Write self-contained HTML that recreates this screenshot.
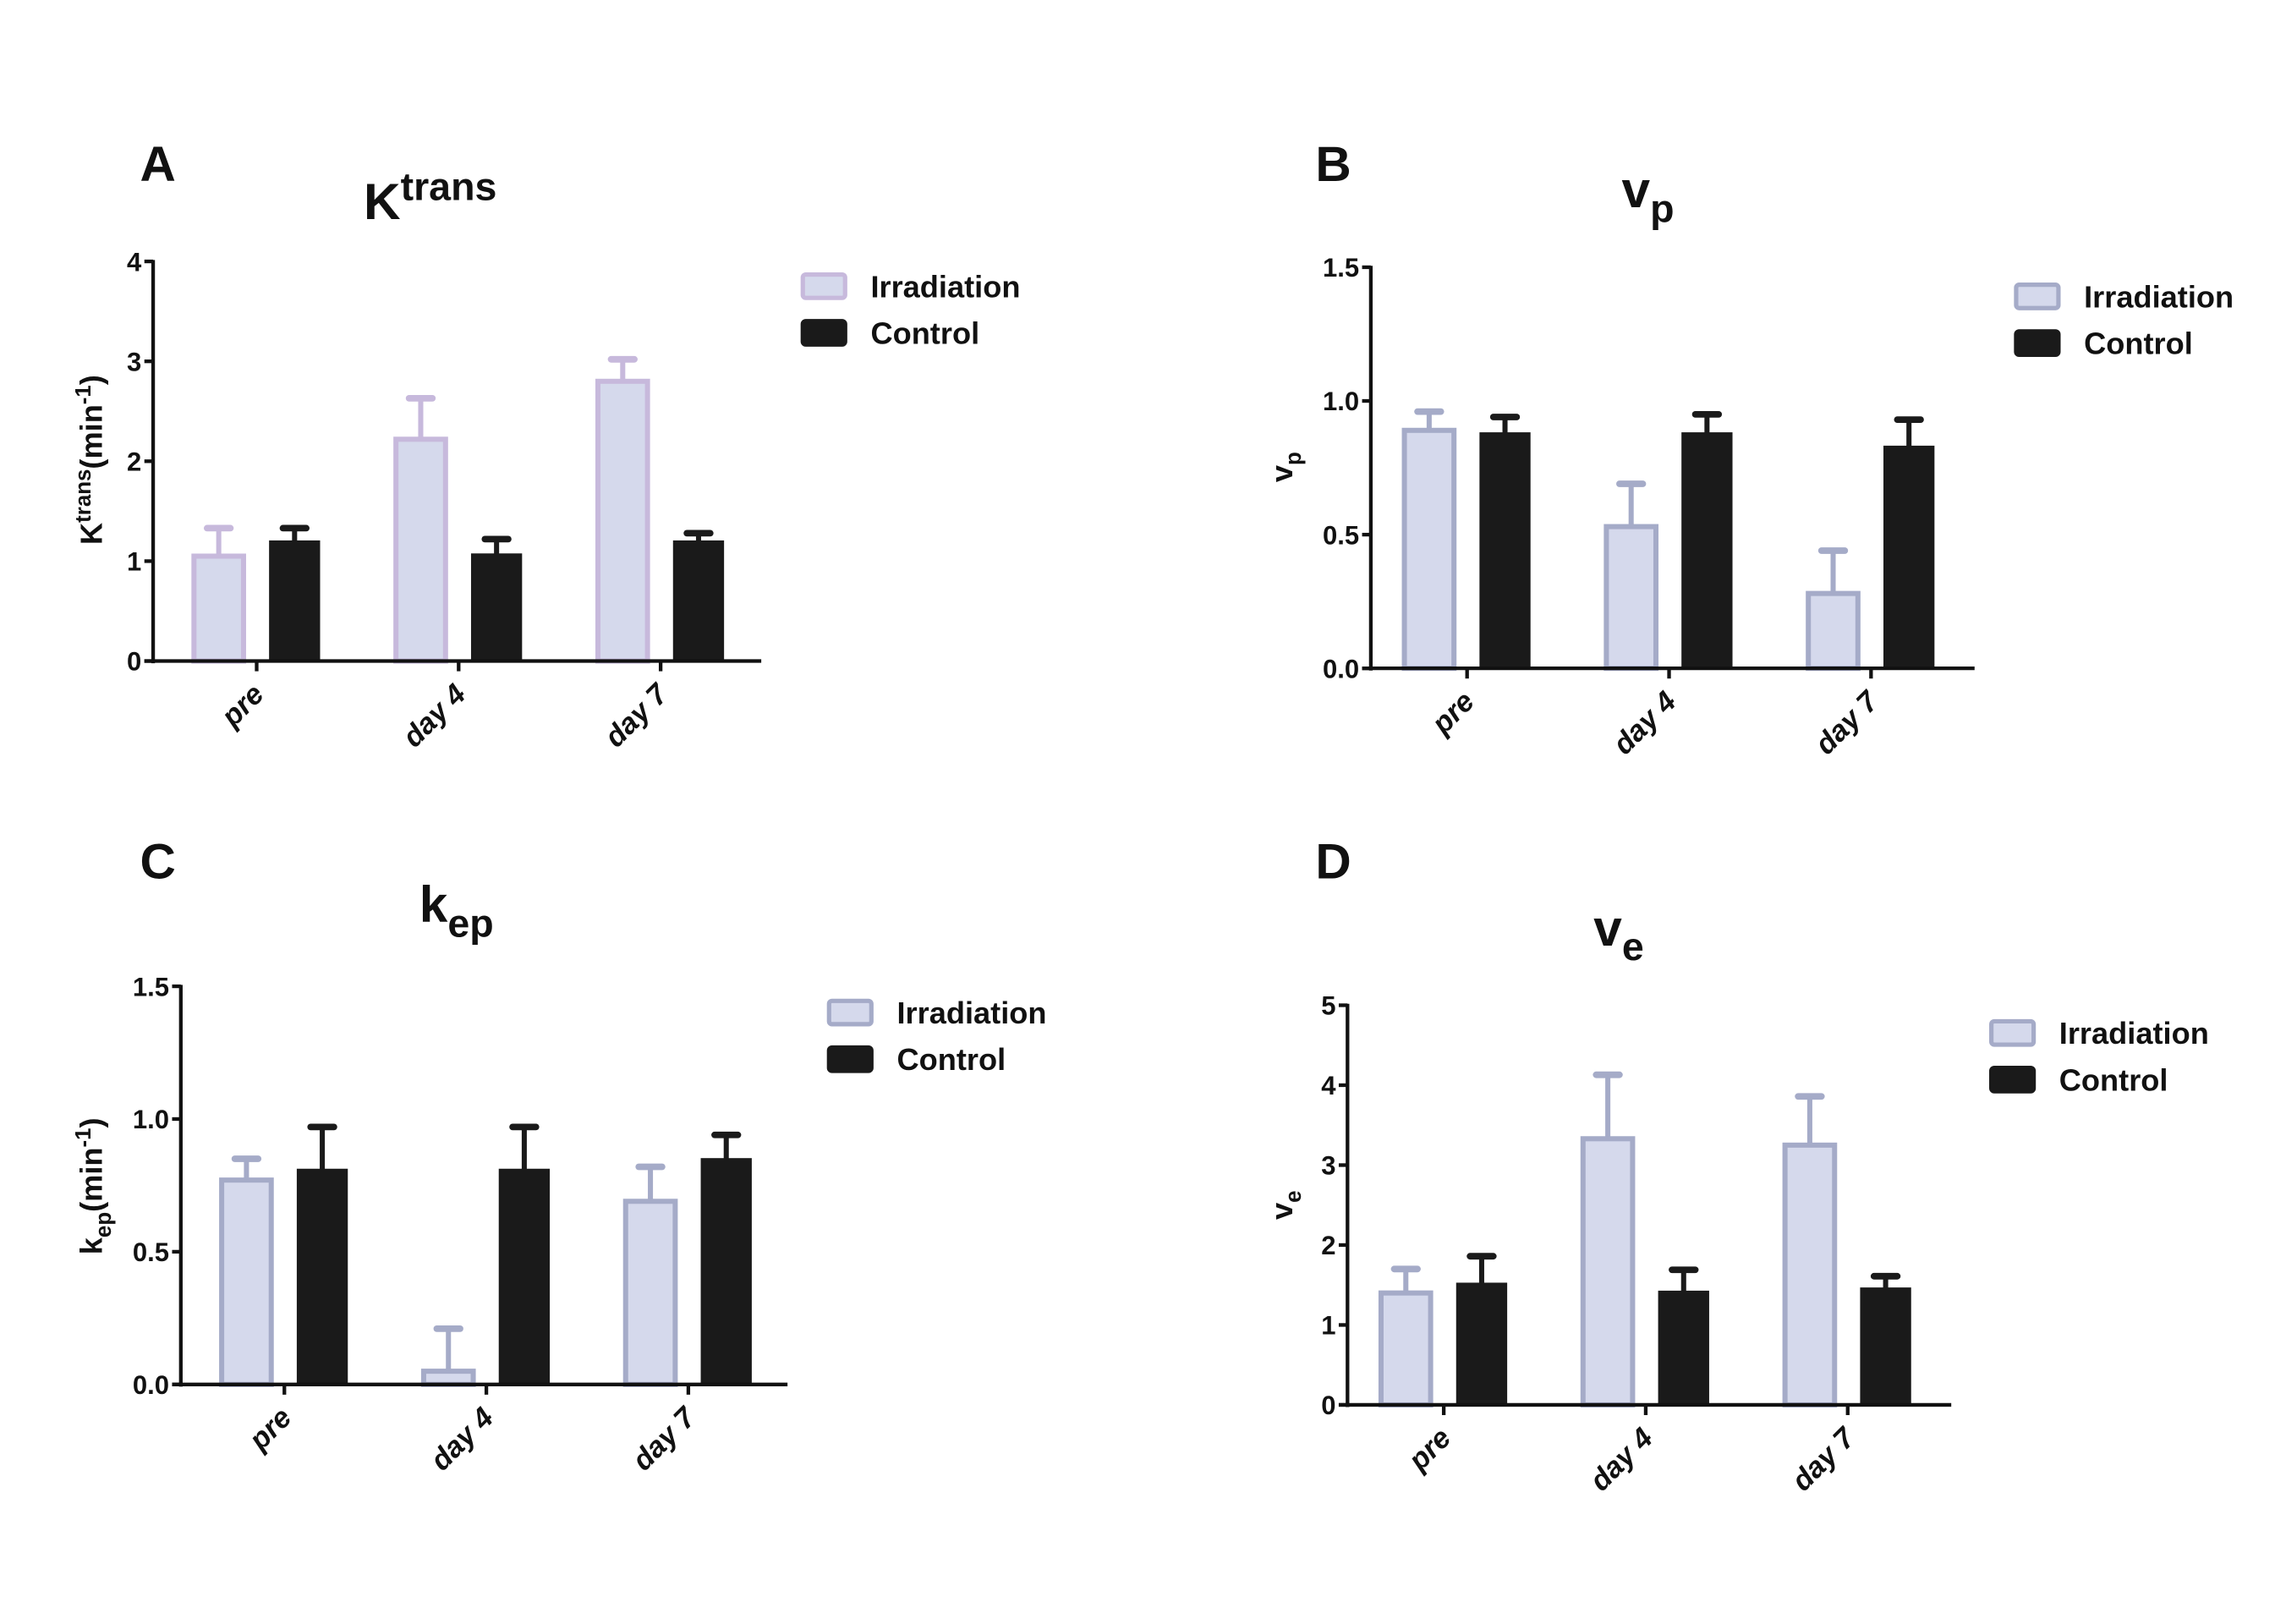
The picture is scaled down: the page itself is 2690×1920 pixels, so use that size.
<!DOCTYPE html>
<html><head><meta charset="utf-8"><style>
html,body{margin:0;padding:0;background:#fff;}
svg{display:block;}
text{font-family:"Liberation Sans",sans-serif;font-weight:bold;fill:#111;}
</style></head><body>
<svg id="fig" width="2690" height="1920" viewBox="0 0 1560 1113" xmlns="http://www.w3.org/2000/svg">
<rect width="1560" height="1113" fill="#fff"/>
</svg>
<script>
const categories = ["pre", "day 4", "day 7"];
const ktransIrr = [1.05, 2.22, 2.8];
const ktransIrrErr = [1.33, 2.63, 3.02];
const ktransCtl = [1.2, 1.07, 1.2];
const ktransCtlErr = [1.33, 1.22, 1.28];
const ktransTicks = ["0", "1", "2", "3", "4"];
const vpIrr = [0.89, 0.53, 0.28];
const vpIrrErr = [0.96, 0.69, 0.44];
const vpCtl = [0.88, 0.88, 0.83];
const vpCtlErr = [0.94, 0.95, 0.93];
const vpTicks = ["0.0", "0.5", "1.0", "1.5"];
const kepIrr = [0.77, 0.05, 0.69];
const kepIrrErr = [0.85, 0.21, 0.82];
const kepCtl = [0.81, 0.81, 0.85];
const kepCtlErr = [0.97, 0.97, 0.94];
const kepTicks = ["0.0", "0.5", "1.0", "1.5"];
const veIrr = [1.4, 3.33, 3.25];
const veIrrErr = [1.7, 4.13, 3.86];
const veCtl = [1.52, 1.42, 1.46];
const veCtlErr = [1.86, 1.69, 1.61];
const veTicks = ["0", "1", "2", "3", "4", "5"];

const NS = "http://www.w3.org/2000/svg";
const svg = document.getElementById("fig");
function mk(tag, attrs, parent, txt) {
  const e = document.createElementNS(NS, tag);
  for (const k in attrs) e.setAttribute(k, attrs[k]);
  if (txt !== undefined) e.textContent = txt;
  (parent || svg).appendChild(e);
  return e;
}

function panel(cfg) {
  const g = mk("g", {});
  
  
  const yScale = v => cfg.y0 - (v / cfg.max) * (cfg.y0 - cfg.yTop);
  const xScale = i => cfg.c0 + i * cfg.step;
  const L = mk("text", {x: cfg.letterX, y: cfg.letterY, "font-size": 34}, g, cfg.letter);
  
  
  const T = mk("text", {x: cfg.titleX, y: cfg.titleY, "font-size": 35, "text-anchor": "middle"}, g);
  
  
  mk("tspan", {}, T, cfg.titleMain);
  mk("tspan", {dy: cfg.titleSup ? -13 : 10, "font-size": 27}, T, cfg.titleSup || cfg.titleSub);
  const Y = mk("text", {transform: `translate(${cfg.ylabX},${cfg.ylabY}) rotate(-90)`, "font-size": 21, "text-anchor": "middle"}, g);
  
  
  cfg.ylab(Y);
  const bw = 34, off = 26;
  const sets = [[cfg.irr, cfg.irrErr, "irr"], [cfg.ctl, cfg.ctlErr, "ctl"]];
  sets.forEach(([vals, errs, kind], s) => {
    vals.forEach((v, i) => {
      const cx = xScale(i) + (s === 0 ? -off : off);
      const col = kind === "irr" ? cfg.irrStroke : "#1a1a1a";
      const eb = mk("g", {}, g);
      
      
      mk("line", {x1: cx, x2: cx, y1: yScale(v), y2: yScale(errs[i]), stroke: col, "stroke-width": 3.5}, eb);
      mk("line", {x1: cx - 8, x2: cx + 8, y1: yScale(errs[i]), y2: yScale(errs[i]), stroke: col, "stroke-width": 4.5, "stroke-linecap": "round"}, eb);
      const top = yScale(v);
      const r = mk("rect", {x: cx - bw / 2, y: top, width: bw, height: cfg.y0 - top,
        fill: kind === "irr" ? "#d5d9ec" : "#1a1a1a",
        stroke: col, "stroke-width": kind === "irr" ? 3.5 : 1}, g);
      
      
    });
  });
  const ax = mk("g", {}, g);
  
  
  mk("line", {x1: cfg.ax, x2: cfg.ax, y1: cfg.yTop - 1, y2: cfg.y0 + 1.5, stroke: "#111", "stroke-width": 2.5}, ax);
  mk("line", {x1: cfg.ax - 6, x2: cfg.xEnd, y1: cfg.y0, y2: cfg.y0, stroke: "#111", "stroke-width": 2.5}, ax);
  cfg.ticks.forEach((t, k) => {
    const yy = yScale(k * cfg.max / (cfg.ticks.length - 1));
    mk("line", {x1: cfg.ax - 6, x2: cfg.ax, y1: yy, y2: yy, stroke: "#111", "stroke-width": 2.5}, ax);
    const tl = mk("text", {x: cfg.ax - 8, y: yy + 6.5, "font-size": 18, "text-anchor": "end"}, ax, t);
    
    
  });
  categories.forEach((c, i) => {
    const xx = xScale(i);
    mk("line", {x1: xx, x2: xx, y1: cfg.y0, y2: cfg.y0 + 7, stroke: "#111", "stroke-width": 2.5}, ax);
    const cl = mk("text", {transform: `translate(${xx + 6},${cfg.y0 + 24}) rotate(-45)`, "font-size": 20, "text-anchor": "end", "font-style": "italic"}, ax, c);
    
    
  });
  const lg = mk("g", {}, g);
  
  
  [["Irradiation", "#d5d9ec", cfg.irrStroke], ["Control", "#1a1a1a", "#1a1a1a"]].forEach((e, k) => {
    const ly = cfg.legY + k * 32;
    const le = mk("g", {}, lg);
    
    
    mk("rect", {x: cfg.legX + 1.5, y: ly - 8, width: 29, height: 16, rx: 2, fill: e[1], stroke: e[2], "stroke-width": 3}, le);
    mk("text", {x: cfg.legX + 48, y: ly + 7.5, "font-size": 21}, le, e[0]);
  });
}

panel({id: "ktrans", letter: "A", letterX: 96, letterY: 124, titleX: 295, titleY: 150, titleMain: "K", titleSup: "trans",
  ylab: Y => { mk("tspan", {}, Y, "K"); mk("tspan", {dy: -8, "font-size": 15}, Y, "trans"); mk("tspan", {dy: 8}, Y, "(min"); mk("tspan", {dy: -8, "font-size": 15}, Y, "-1"); mk("tspan", {dy: 8}, Y, ")"); },
  ylabX: 70, ylabY: 315, ax: 105, yTop: 179, y0: 453, xEnd: 522, max: 4, ticks: ktransTicks,
  c0: 176, step: 138.5, irr: ktransIrr, irrErr: ktransIrrErr, ctl: ktransCtl, ctlErr: ktransCtlErr,
  irrStroke: "#c7b9dc", legX: 549, legY: 196});
panel({id: "vp", letter: "B", letterX: 902, letterY: 124, titleX: 1130, titleY: 142, titleMain: "v", titleSub: "p",
  ylab: Y => { mk("tspan", {}, Y, "v"); mk("tspan", {dy: 6, "font-size": 15}, Y, "p"); },
  ylabX: 886, ylabY: 320, ax: 940, yTop: 183, y0: 458, xEnd: 1354, max: 1.5, ticks: vpTicks,
  c0: 1006, step: 138.5, irr: vpIrr, irrErr: vpIrrErr, ctl: vpCtl, ctlErr: vpCtlErr,
  irrStroke: "#a5abc8", legX: 1381, legY: 203});
panel({id: "kep", letter: "C", letterX: 96, letterY: 602, titleX: 313, titleY: 632, titleMain: "k", titleSub: "ep",
  ylab: Y => { mk("tspan", {}, Y, "k"); mk("tspan", {dy: 6, "font-size": 15}, Y, "ep"); mk("tspan", {dy: -6}, Y, "(min"); mk("tspan", {dy: -8, "font-size": 15}, Y, "-1"); mk("tspan", {dy: 8}, Y, ")"); },
  ylabX: 70, ylabY: 813, ax: 124, yTop: 676, y0: 949, xEnd: 540, max: 1.5, ticks: kepTicks,
  c0: 195, step: 138.5, irr: kepIrr, irrErr: kepIrrErr, ctl: kepCtl, ctlErr: kepCtlErr,
  irrStroke: "#a5abc8", legX: 567, legY: 694});
panel({id: "ve", letter: "D", letterX: 902, letterY: 602, titleX: 1110, titleY: 648, titleMain: "v", titleSub: "e",
  ylab: Y => { mk("tspan", {}, Y, "v"); mk("tspan", {dy: 6, "font-size": 15}, Y, "e"); },
  ylabX: 886, ylabY: 826, ax: 924, yTop: 689, y0: 963, xEnd: 1338, max: 5, ticks: veTicks,
  c0: 990, step: 138.5, irr: veIrr, irrErr: veIrrErr, ctl: veCtl, ctlErr: veCtlErr,
  irrStroke: "#a5abc8", legX: 1364, legY: 708});
</script>
</body></html>
